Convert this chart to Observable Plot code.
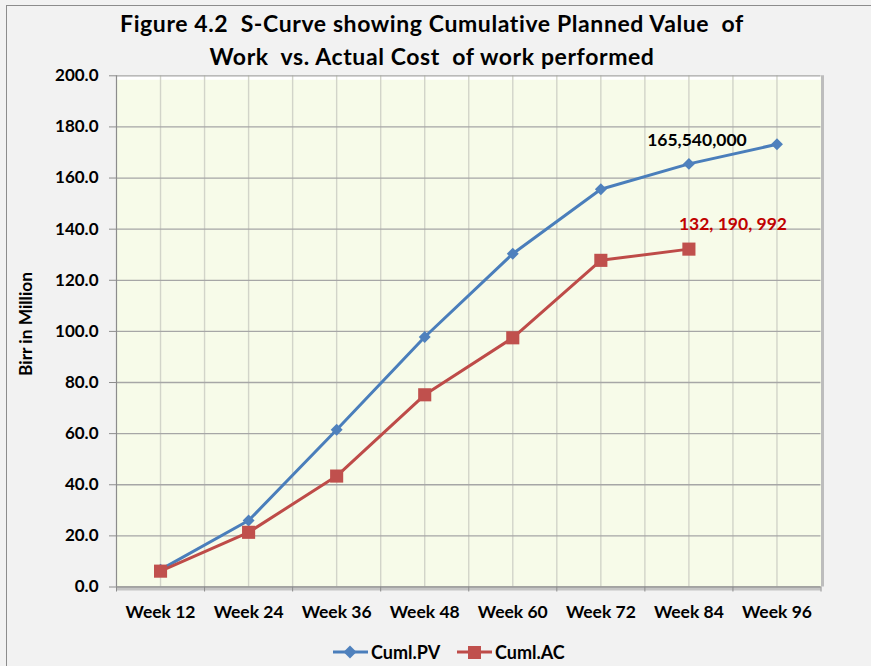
<!DOCTYPE html>
<html>
<head>
<meta charset="utf-8">
<script src="https://cdn.jsdelivr.net/npm/d3@7"></script>
<script src="https://cdn.jsdelivr.net/npm/@observablehq/plot@0.6"></script>
<style>
  html, body { margin: 0; padding: 0; background: #f2f2f2; }
  #chart { position: relative; width: 871px; height: 666px; background: #f2f2f2; overflow: hidden;
           font-family: Lato, "Open Sans", sans-serif; color: #000; }
  #border { position: absolute; left: 6px; top: 5px; width: 880px; height: 700px;
            border-left: 1.5px solid #8c8c8c; border-top: 1.5px solid #8c8c8c; }
  #title { position: absolute; left: -3.5px; top: 7.2px; width: 871px; text-align: center;
           font-size: 23px; font-weight: bold; line-height: 32.5px; white-space: pre; letter-spacing: 0.6px; }
  #plot { position: absolute; left: 0; top: 0; }
  #ytitle { position: absolute; left: 25px; top: 324px; transform: translate(-50%, -50%) rotate(-90deg);
            font-size: 17.3px; font-weight: bold; white-space: nowrap; }
  #legend { position: absolute; left: 0; top: 641px; width: 871px; height: 22px; }
  #legend .item { position: absolute; top: 0; display: flex; align-items: center; font-size: 18px; font-weight: bold; }
</style>
</head>
<body>
<div id="chart">
  <div id="border"></div>
  <div id="plot"></div>
  <div id="title"></div>
  <div id="ytitle"></div>
  <div id="legend"></div>
</div>
<script>
// ---- data ----
const titleLines = ["Figure 4.2  S-Curve showing Cumulative Planned Value  of", "Work  vs. Actual Cost  of work performed"];
const yTitle = "Birr in Million";
const weeks = ["Week 12", "Week 24", "Week 36", "Week 48", "Week 60", "Week 72", "Week 84", "Week 96"];
const cumlPV = [6.8, 26.0, 61.5, 97.8, 130.4, 155.6, 165.54, 173.2];
const cumlAC = [6.2, 21.4, 43.4, 75.2, 97.5, 127.8, 132.19];
const seriesNames = ["Cuml.PV", "Cuml.AC"];
const yTicks = [0, 20, 40, 60, 80, 100, 120, 140, 160, 180, 200];
const pvLabel = {week: "Week 84", text: "165,540,000"};
const acLabel = {week: "Week 84", text: "132, 190, 992"};

// ---- styles ----
const pvLine = "#4a7ebb", pvMark = "#4f81bd";
const acLine = "#be4b48", acMark = "#c0504d";

const idx = w => weeks.indexOf(w) + 1;
const pvData = cumlPV.map((v, i) => ({x: i + 1, y: v}));
const acData = cumlAC.map((v, i) => ({x: i + 1, y: v}));
const centers = weeks.map((w, i) => i + 1);
const boundaries = [0.5, ...weeks.map((w, i) => i + 1.5)];
const vGrid = [...centers, ...boundaries.slice(1, -1)];

document.getElementById("title").textContent = titleLines.join("\n");
document.getElementById("ytitle").textContent = yTitle;

const plot = Plot.plot({
  width: 871,
  height: 630,
  marginTop: 75.3,
  marginBottom: 43.5,
  marginLeft: 116,
  marginRight: 50.5,
  style: {fontFamily: "Lato, 'Open Sans', sans-serif", fontSize: "17px", fontWeight: "bold", color: "#000", background: "transparent"},
  x: {type: "linear", domain: [0.5, weeks.length + 0.5]},
  y: {domain: [0, 200]},
  marks: [
    Plot.frame({fill: "#f7fbe9", stroke: null}),
    Plot.ruleY([200], {stroke: "#ffffff", strokeWidth: 4, dy: 2}),
    Plot.ruleX(vGrid, {stroke: "#d2d4c9", strokeWidth: 1.4}),
    Plot.ruleY(yTicks, {stroke: "#a6a6a6", strokeWidth: 1.3}),
    Plot.ruleX([weeks.length + 0.5], {stroke: "#bdbdbd", strokeWidth: 3, dx: 1.5}),
    Plot.ruleY([0], {stroke: "#c4c4c4", strokeWidth: 3, dy: 2}),
    Plot.ruleX([0.5], {stroke: "#8c8c8c", strokeWidth: 1.2}),
    Plot.ruleY([0], {stroke: "#8c8c8c", strokeWidth: 1.2}),
    Plot.axisY({ticks: yTicks, tickSize: 7, tickFormat: () => "", color: "#8c8c8c", label: null}),
    Plot.axisY({ticks: yTicks, tickSize: 0, tickPadding: 18, tickFormat: d3.format(".1f"), fill: "#000", fontSize: 17, fontWeight: "bold", label: null}),
    Plot.axisX({ticks: boundaries, tickSize: 5, tickFormat: () => "", color: "#8c8c8c", label: null}),
    Plot.axisX({ticks: centers, tickSize: 0, tickPadding: 19, tickFormat: i => weeks[i - 1], fill: "#000", fontSize: 17.5, fontWeight: "bold", label: null}),
    Plot.line(pvData, {x: "x", y: "y", stroke: pvLine, strokeWidth: 3}),
    Plot.dot(pvData, {x: "x", y: "y", symbol: "diamond2", r: 5.4, fill: pvMark, stroke: null}),
    Plot.line(acData, {x: "x", y: "y", stroke: acLine, strokeWidth: 3}),
    Plot.dot(acData, {x: "x", y: "y", symbol: "square", r: 7.4, fill: acMark, stroke: null}),
    Plot.text([pvLabel], {x: d => idx(d.week), y: d => cumlPV[idx(d.week) - 1], text: "text", dx: 8, dy: -23, fill: "#000", fontSize: 17.5, fontWeight: "bold"}),
    Plot.text([acLabel], {x: d => idx(d.week), y: d => cumlAC[idx(d.week) - 1], text: "text", dx: 44, dy: -25, fill: "#c00000", fontSize: 17.5, fontWeight: "bold"})
  ]
});
document.getElementById("plot").appendChild(plot);

// ---- legend ----
const legend = document.getElementById("legend");
const legendItems = [
  {name: seriesNames[0], line: pvLine, mark: pvMark, shape: "diamond", left: 333},
  {name: seriesNames[1], line: acLine, mark: acMark, shape: "square", left: 457}
];
for (const it of legendItems) {
  const div = document.createElement("div");
  div.className = "item";
  div.style.left = it.left + "px";
  const shape = it.shape === "diamond"
    ? `<path d="M17,4.5 L23.5,11 L17,17.5 L10.5,11 Z" fill="${it.mark}"/>`
    : `<rect x="11" y="5" width="13" height="13" fill="${it.mark}"/>`;
  div.innerHTML = `<svg width="36" height="22" style="display:block"><line x1="0" x2="35" y1="11" y2="11" stroke="${it.line}" stroke-width="3"/>${shape}</svg><span style="margin-left:2px;line-height:22px">${it.name}</span>`;
  legend.appendChild(div);
}
</script>
</body>
</html>
